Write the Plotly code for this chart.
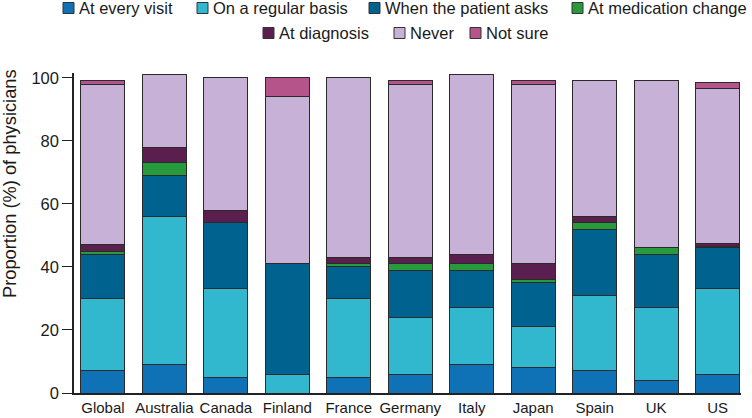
import plotly.graph_objects as go

countries = ["Global", "Australia", "Canada", "Finland", "France", "Germany",
             "Italy", "Japan", "Spain", "UK", "US"]

at_every_visit = [7, 9, 5, 0, 5, 6, 9, 8, 7, 4, 6]
regular_basis = [23, 47, 28, 6, 25, 18, 18, 13, 24, 23, 27]
patient_asks = [14, 13, 21, 35, 10, 15, 12, 14, 21, 17, 13]
medication_change = [1, 4, 0, 0, 1, 2, 2, 1, 2, 2, 0.5]
at_diagnosis = [2, 5, 4, 0, 2, 2, 3, 5, 2, 0, 1]
never = [51, 23, 42, 53, 57, 55, 57, 57, 43, 53, 49]
not_sure = [1, 0, 0, 6, 0, 1, 0, 1, 0, 0, 2]

series_names = ["At every visit", "On a regular basis", "When the patient asks",
                "At medication change", "At diagnosis", "Never", "Not sure"]
series_values = [at_every_visit, regular_basis, patient_asks, medication_change,
                 at_diagnosis, never, not_sure]
series_colors = ["#0f72b7", "#31b8cf", "#00638f", "#279a3c", "#5a1f4f", "#c7b1d7", "#b5548a"]

# figure geometry (pixels)
W, H = 752, 418
ML, MR, MT, MB = 74, 11, 73, 25
PW, PH = W - ML - MR, H - MT - MB

def px_x(p):
    return (p - ML) / PW

def px_y(p):
    return (H - MB - p) / PH

fig = go.Figure()
for name, vals, color in zip(series_names, series_values, series_colors):
    fig.add_trace(go.Bar(
        x=countries, y=vals, name=name, showlegend=False,
        marker=dict(color=color, line=dict(color="#2a2a2a", width=1)),
        width=0.715,
    ))

# legend drawn as swatches + text (two centred rows like the reference)
legend_pos = [(63, 8), (197, 8), (369, 8), (572, 8), (263, 33), (394, 33), (470, 33)]
shapes = []
annotations = []
for name, color, (sx, sy) in zip(series_names, series_colors, legend_pos):
    shapes.append(dict(type="rect", xref="paper", yref="paper",
                       x0=px_x(sx), x1=px_x(sx + 11), y0=px_y(sy + 5.5), y1=px_y(sy - 5.5),
                       fillcolor=color, line=dict(color="#333", width=1)))
    annotations.append(dict(text=name, xref="paper", yref="paper", x=px_x(sx + 14),
                            y=px_y(sy), xanchor="left", yanchor="middle", showarrow=False,
                            font=dict(size=16.5, color="#1a1a1a")))

annotations.append(dict(text="Proportion (%) of physicians", xref="paper", yref="paper",
                        x=px_x(9), y=px_y(184), xanchor="center", yanchor="middle",
                        textangle=-90, showarrow=False,
                        font=dict(size=18.3, color="#1a1a1a")))

font = "Liberation Sans, Arial, sans-serif"
fig.update_layout(
    barmode="stack",
    width=W, height=H,
    margin=dict(l=ML, r=MR, t=MT, b=MB, autoexpand=False),
    paper_bgcolor="white", plot_bgcolor="white",
    font=dict(family=font, size=15, color="#1a1a1a"),
    showlegend=False,
    shapes=shapes, annotations=annotations,
    xaxis=dict(range=[-0.47, 10.38], showline=True, linecolor="#222", linewidth=1.5,
               ticks="", tickfont=dict(size=15), fixedrange=True),
    yaxis=dict(range=[0, 101.5], tickvals=[0, 20, 40, 60, 80, 100], showline=True,
               linecolor="#222", linewidth=1.5, ticks="outside", ticklen=10,
               tickcolor="#222", showgrid=False, zeroline=False,
               tickfont=dict(size=16.5)),
)

fig.write_html("out.html", config={"displayModeBar": False},
               post_script="document.body.style.margin='0';document.body.style.overflow='hidden';")
